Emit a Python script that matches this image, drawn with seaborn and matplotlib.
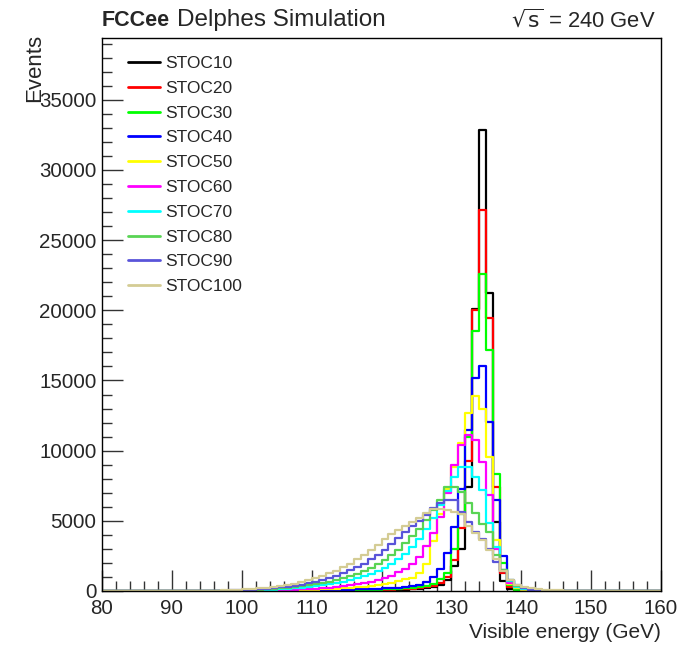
import numpy as np
import pandas as pd
import seaborn as sns
import matplotlib
matplotlib.use("Agg")
import matplotlib.pyplot as plt
from matplotlib.lines import Line2D
from matplotlib.ticker import MultipleLocator

# ---------------- data (bin lower edges 90..149, 1 GeV bins) ----------------
bin_lo = list(range(90, 150))

stoc10 = [0,0,0,0,0,0,0,0,0,0,
          5,5,5,10,10,10,15,15,20,20,
          25,25,30,30,35,40,40,45,50,55,
          60,70,80,100,120,150,200,280,400,750,
          1800,3000,7400,20100,32850,21200,4900,700,120,40,
          20,10,5,0,0,0,0,0,0,0]
stoc20 = [0,0,0,0,0,0,0,0,0,0,
          5,5,10,10,10,15,15,20,20,25,
          30,30,35,40,45,50,55,60,65,70,
          80,90,110,130,160,200,260,360,560,1000,
          2200,4500,9250,19990,27170,19440,7400,1300,250,60,
          25,10,5,0,0,0,0,0,0,0]
stoc30 = [0,0,0,0,0,0,0,0,0,0,
          5,10,10,15,15,20,20,25,30,35,
          40,45,50,55,60,65,70,80,90,100,
          110,130,150,180,220,280,380,530,820,1300,
          3000,5500,11000,18510,22600,17140,8370,2000,400,100,
          40,15,5,0,0,0,0,0,0,0]
stoc40 = [0,0,0,0,0,0,0,0,0,0,
          10,10,15,15,20,25,30,35,40,50,
          55,60,70,80,90,100,110,120,140,160,
          180,200,230,270,330,450,650,1000,1600,2700,
          4570,7300,11450,15170,16000,12040,6500,2500,700,200,
          80,30,10,0,0,0,0,0,0,0]
stoc50 = [0,0,0,0,0,0,0,0,0,0,
          10,15,20,25,30,35,45,55,65,80,
          95,110,130,150,180,210,250,290,340,400,
          470,560,680,830,900,1300,1900,3550,5500,7300,
          8840,10550,12710,13890,12990,9550,3600,1500,500,200,
          100,50,20,10,5,0,0,0,0,0]
stoc60 = [0,0,0,0,0,0,0,0,5,10,
          20,25,30,40,50,60,75,90,110,130,
          160,190,230,280,330,400,470,560,660,780,
          920,1100,1320,1600,1950,2450,3200,4100,5300,7000,
          8960,10380,11100,10740,9200,6830,3000,1500,600,250,
          120,60,30,15,5,0,0,0,0,0]
stoc70 = [0,0,0,0,0,5,10,15,20,30,
          40,50,65,80,100,125,155,190,230,280,
          340,400,470,560,660,780,910,1060,1230,1420,
          1650,1920,2250,2650,3100,3700,4400,5200,6100,7100,
          8130,8840,8800,8130,7180,4840,3150,1500,700,300,
          150,80,40,20,10,5,0,0,0,0]
stoc80 = [0,0,0,0,5,10,15,20,25,35,
          50,65,85,110,140,180,220,270,330,400,
          480,570,670,780,910,1060,1230,1430,1650,1900,
          2200,2550,2950,3400,3900,4450,5050,5750,6500,7420,
          7420,7060,6260,5550,4800,4220,2600,1500,800,350,
          180,90,40,20,10,5,0,0,0,0]
stoc90 = [0,0,0,5,10,15,20,30,40,55,
          75,100,130,160,200,250,310,380,460,560,
          670,790,930,1100,1280,1480,1700,1950,2250,2600,
          2950,3350,3800,4200,4600,5000,5450,5900,6250,6470,
          6470,5640,4930,4220,3700,3000,2100,1400,800,400,
          200,100,50,25,10,5,0,0,0,0]
stoc100 = [0,0,5,10,15,20,30,45,60,80,
           110,140,180,230,290,360,440,530,640,760,
           900,1050,1250,1450,1700,1950,2250,2600,2950,3300,
           3700,4050,4350,4650,4950,5200,5550,5850,5850,5750,
           5640,5500,4640,4100,3600,2900,2300,1400,800,430,
           300,200,150,100,60,40,20,10,5,0]

labels = ["STOC10", "STOC20", "STOC30", "STOC40", "STOC50",
          "STOC60", "STOC70", "STOC80", "STOC90", "STOC100"]
series = [stoc10, stoc20, stoc30, stoc40, stoc50,
          stoc60, stoc70, stoc80, stoc90, stoc100]
colors = ["#000000", "#ff0000", "#00ff00", "#0000ff", "#ffff00",
          "#ff00ff", "#00ffff", "#59d454", "#5954d9", "#d4cc94"]

xticks = [80, 90, 100, 110, 120, 130, 140, 150, 160]
yticks = [0, 5000, 10000, 15000, 20000, 25000, 30000, 35000]

# ---------------- plotting ----------------
sns.set_style("ticks")
plt.rcParams["font.family"] = ["Liberation Sans", "DejaVu Sans"]

fig = plt.figure(figsize=(6.79, 6.45), dpi=100)
ax = fig.add_axes([102/679, 54/645, 559/679, 553/645])

edges = [float(e) for e in range(80, 161)]
rows = []
for lab, vals in zip(labels, series):
    for b, v in zip(bin_lo, vals):
        rows.append({"energy": b + 0.5, "events": v, "sample": lab})
df = pd.DataFrame(rows)

for lab, col in zip(labels, colors):
    sub = df[df["sample"] == lab]
    sns.histplot(data=sub, x="energy", weights="events", bins=edges,
                 element="step", fill=False, color=col, linewidth=1.6,
                 ax=ax)

ax.set_xlim(80, 160)
ax.set_ylim(0, 39400)
ax.set_xticks(xticks)
ax.set_yticks(yticks)
ax.set_xticklabels([str(t) for t in xticks])
ax.set_yticklabels([str(t) for t in yticks])
ax.xaxis.set_minor_locator(MultipleLocator(2))
ax.yaxis.set_minor_locator(MultipleLocator(1000))
ax.tick_params(axis="both", which="major", direction="in", length=15,
               width=1.0, labelsize=14.8, color="#333333")
ax.tick_params(axis="both", which="minor", direction="in", length=7,
               width=1.0, color="#333333")
ax.tick_params(axis="x", pad=6)
ax.tick_params(axis="y", pad=4)
for s in ax.spines.values():
    s.set_linewidth(1.0)
    s.set_color("black")

ax.set_xlabel("")
ax.set_ylabel("")
fig.text(661/679, 1 - 633/645, "Visible energy (GeV)", ha="right",
         va="center", fontsize=15)
fig.text(35/679, 1 - 34/645, "Events", ha="center", va="top",
         rotation=90, fontsize=16)

fig.text(102/679, 1 - 20/645, "FCCee", ha="left", va="center",
         fontsize=15.5, fontweight="bold")
fig.text(177/679, 1 - 20/645, "Delphes Simulation", ha="left", va="center",
         fontsize=17.5)
fig.text(656/679, 1 - 20/645, r"$\sqrt{\mathrm{s}}$ = 240 GeV", ha="right",
         va="center", fontsize=15.8)

handles = [Line2D([0], [0], color=c, lw=2) for c in colors]
leg = ax.legend(handles, labels, loc="upper left",
                bbox_to_anchor=(19/559, 1 - 11/553), frameon=False,
                fontsize=12.5, handlelength=1.84, handletextpad=0.3,
                labelspacing=0.555, borderaxespad=0)

fig.savefig("out.png", dpi=100, facecolor="white")
